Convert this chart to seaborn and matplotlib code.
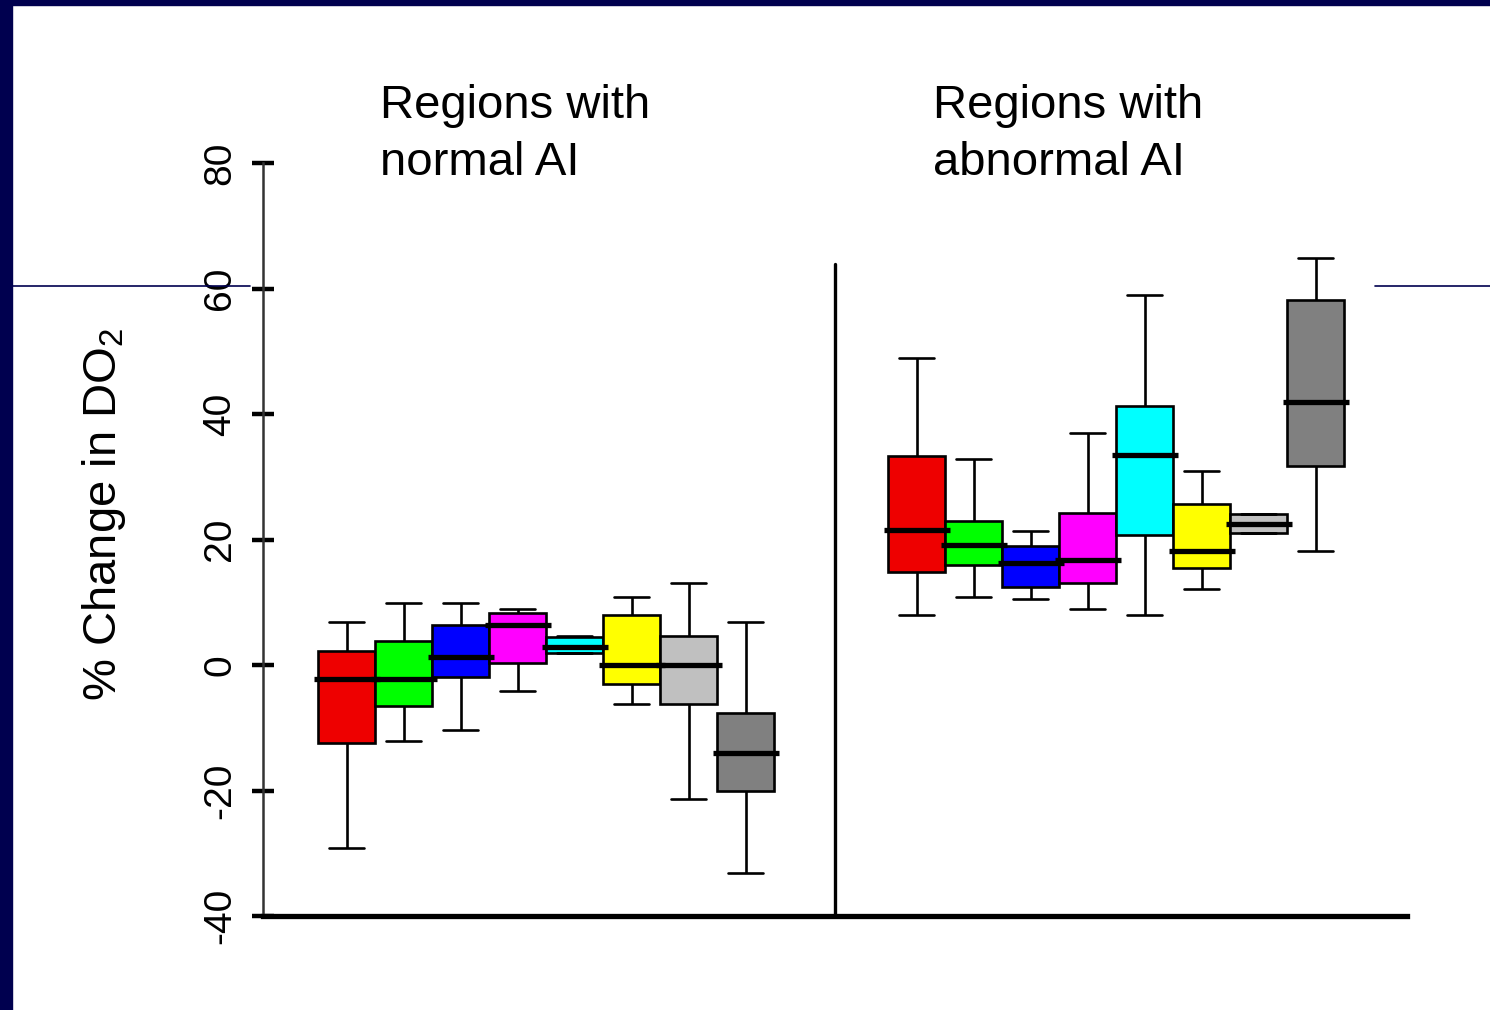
import numpy as np
import pandas as pd
import matplotlib
matplotlib.use("Agg")
import matplotlib.pyplot as plt
import seaborn as sns
from matplotlib.patches import Rectangle
from matplotlib.lines import Line2D

# ---- data: five-number summaries of % change in DO2, one box per region ----
box_colors = ["#EE0000", "#00FF00", "#0000FF", "#FF00FF",
              "#00FFFF", "#FFFF00", "#C0C0C0", "#808080"]

normal_low  = [-29.1, -12.1, -10.3, -4.1, 1.9, -6.2, -21.3, -33.2]
normal_q1   = [-12.4,  -6.5,  -1.9,  0.3, 1.9, -3.1,  -6.2, -20.0]
normal_med  = [ -2.2,  -2.2,   1.3,  6.4, 2.9,  0.0,   0.0, -14.0]
normal_q3   = [  2.2,   3.8,   6.3,  8.3, 4.4,  7.9,   4.7,  -7.7]
normal_high = [  6.9,   9.9,   9.9,  8.9, 4.7, 10.8,  13.0,   6.9]

abnormal_low  = [ 7.9, 10.8, 10.5,  8.9,  7.9, 12.1, 21.0, 18.1]
abnormal_q1   = [14.9, 15.9, 12.4, 13.0, 20.7, 15.5, 21.0, 31.7]
abnormal_med  = [21.5, 19.1, 16.2, 16.7, 33.4, 18.1, 22.5, 41.9]
abnormal_q3   = [33.3, 23.0, 18.9, 24.3, 41.3, 25.6, 24.0, 58.1]
abnormal_high = [48.9, 32.8, 21.3, 36.9, 59.0, 30.9, 24.0, 64.8]

group_titles = ["Regions with\nnormal AI", "Regions with\nabnormal AI"]
y_ticks = [-40, -20, 0, 20, 40, 60, 80]
y_label = "% Change in DO$_2$"

# ---- layout constants ----
NORMAL_START = 0
ABNORMAL_START = 10
DIVIDER_X = 8.56
DIVIDER_TOP = 63.9
NAVY = "#00004F"
FONT = "Liberation Sans"
MEDIAN_LW = 3.8

sns.set_theme(style="white")
plt.rcParams["font.family"] = [FONT, "DejaVu Sans"]
plt.rcParams["mathtext.fontset"] = "custom"
plt.rcParams["mathtext.rm"] = FONT
plt.rcParams["mathtext.it"] = FONT + ":italic"
plt.rcParams["text.color"] = "black"
plt.rcParams["ytick.color"] = "black"
plt.rcParams["axes.labelcolor"] = "black"

# long-form table: each box is given by its five summary values
rows = []
for start, stats in [
    (NORMAL_START, (normal_low, normal_q1, normal_med, normal_q3, normal_high)),
    (ABNORMAL_START, (abnormal_low, abnormal_q1, abnormal_med, abnormal_q3, abnormal_high)),
]:
    for i, color in enumerate(box_colors):
        for arr in stats:
            rows.append({"slot": start + i, "value": arr[i], "color": color})
df = pd.DataFrame(rows)

fig = plt.figure(figsize=(14.9, 10.1), dpi=100)
fig.patch.set_facecolor("white")
ax = fig.add_axes([263 / 1490, 94 / 1010, (1407 - 263) / 1490, (916 - 163) / 1010])

sns.boxplot(
    data=df, x="slot", y="value", hue="color",
    palette={c: c for c in box_colors}, hue_order=box_colors,
    native_scale=True, dodge=False, width=1.0, saturation=1,
    whis=(0, 100), linecolor="black", linewidth=1.9,
    medianprops=dict(linewidth=MEDIAN_LW, color="black", solid_capstyle="butt"),
    whiskerprops=dict(linewidth=1.9, color="black"),
    capprops=dict(linewidth=1.9, color="black"),
    legend=False, ax=ax,
)

# widen caps and let the median bars poke slightly past the box edges
for ln in ax.lines:
    xd = np.asarray(ln.get_xdata(), dtype=float)
    yd = np.asarray(ln.get_ydata(), dtype=float)
    if xd.size != 2 or yd[0] != yd[1]:
        continue
    mid = xd.mean()
    if abs(ln.get_linewidth() - MEDIAN_LW) < 1e-6:
        ln.set_xdata([xd.min() - 0.08, xd.max() + 0.08])
    elif xd.max() - xd.min() < 0.9:
        ln.set_xdata([mid - 0.31, mid + 0.31])

ax.set_xlim(-1.47, 18.6)
ax.set_ylim(-40, 80)
ax.set_xticks([])
ax.set_xlabel("")
ax.set_yticks(y_ticks)
ax.set_yticklabels([str(t) for t in y_ticks], rotation=90, va="center",
                   fontsize=28, family=FONT, color="black")
ax.tick_params(axis="y", direction="inout", length=16, width=3.2,
               color="black", pad=10, left=True)

for side in ["top", "right"]:
    ax.spines[side].set_visible(False)
ax.spines["left"].set_color("#333333")
ax.spines["left"].set_linewidth(1.8)
ax.spines["bottom"].set_color("black")
ax.spines["bottom"].set_linewidth(3.8)

ax.set_ylabel(y_label, fontsize=34, family=FONT, color="black")
ax.yaxis.set_label_coords(-0.118, 0.533)

# separator between the two region groups
ax.axvline(DIVIDER_X, ymin=0, ymax=(DIVIDER_TOP + 40) / 120,
           color="black", linewidth=2.4)

# group headings
for title, x_px in zip(group_titles, [380, 933]):
    line1, line2 = title.split("\n")
    fig.text(x_px / 1490, 1 - 118 / 1010, line1, fontsize=34, family=FONT,
             ha="left", va="baseline", color="black")
    fig.text(x_px / 1490, 1 - 175 / 1010, line2, fontsize=34, family=FONT,
             ha="left", va="baseline", color="black")

# slide frame: navy bands and thin rule
fig.add_artist(Rectangle((0, 1 - 5 / 1010), 1, 5 / 1010,
                         transform=fig.transFigure, color=NAVY, zorder=10))
fig.add_artist(Rectangle((0, 0), 12 / 1490, 1,
                         transform=fig.transFigure, color=NAVY, zorder=10))
rule_y = 1 - 285.5 / 1010
fig.add_artist(Line2D([12 / 1490, 250 / 1490], [rule_y, rule_y],
                      transform=fig.transFigure, color=NAVY, linewidth=1.2))
fig.add_artist(Line2D([1375 / 1490, 1.0], [rule_y, rule_y],
                      transform=fig.transFigure, color=NAVY, linewidth=1.2))

fig.savefig("out.png", dpi=100, facecolor="white")
